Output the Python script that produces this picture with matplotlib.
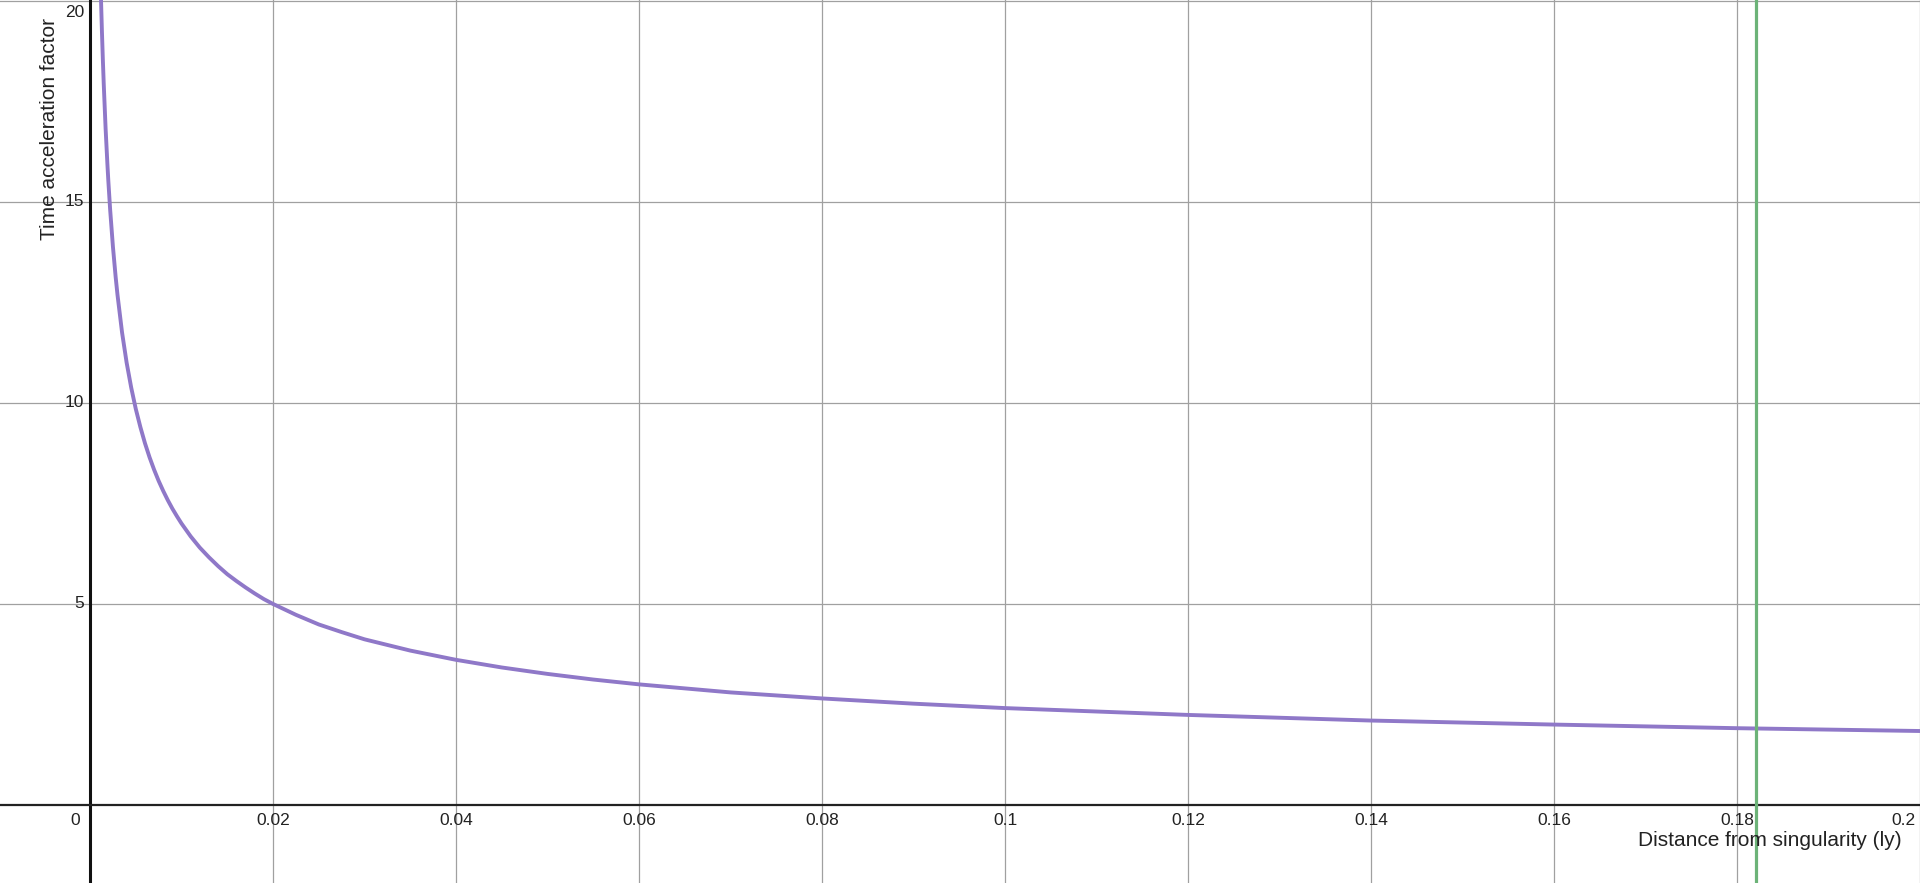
import matplotlib.pyplot as plt

plt.rcParams['font.family'] = ['Liberation Sans', 'DejaVu Sans']

# Puntos (distancia en ly, factor de aceleracion)
distancia = [0.001, 0.0011, 0.0012, 0.0013, 0.0014, 0.0015, 0.0017, 0.0019, 0.002, 0.0022,
             0.0025, 0.0028, 0.003, 0.0035, 0.004, 0.0045, 0.005, 0.0055, 0.006, 0.0065,
             0.007, 0.0075, 0.008, 0.0085, 0.009, 0.0095, 0.01, 0.011, 0.012, 0.013,
             0.014, 0.015, 0.016, 0.017, 0.018, 0.019, 0.02, 0.0225, 0.025, 0.0275,
             0.03, 0.035, 0.04, 0.045, 0.05, 0.055, 0.06, 0.065, 0.07, 0.08,
             0.09, 0.1, 0.12, 0.14, 0.16, 0.18, 0.2]
factor = [21.93, 20.91, 20.02, 19.24, 18.54, 17.92, 16.83, 15.93, 15.52, 14.80,
          13.89, 13.13, 12.69, 11.75, 11.0, 10.38, 9.85, 9.40, 9.0, 8.65,
          8.34, 8.06, 7.81, 7.58, 7.37, 7.18, 7.0, 6.68, 6.40, 6.16,
          5.94, 5.74, 5.57, 5.41, 5.26, 5.12, 5.0, 4.73, 4.49, 4.30,
          4.12, 3.84, 3.61, 3.42, 3.26, 3.12, 3.0, 2.90, 2.80, 2.65,
          2.52, 2.41, 2.24, 2.10, 2.0, 1.91, 1.84]

# Linea vertical verde
marca_x = 0.1821

# Etiquetas de ejes
x_ticks = [0.02, 0.04, 0.06, 0.08, 0.1, 0.12, 0.14, 0.16, 0.18, 0.2]
x_tick_labels = ['0.02', '0.04', '0.06', '0.08', '0.1', '0.12', '0.14', '0.16', '0.18', '0.2']
y_ticks = [5, 10, 15, 20]
y_tick_labels = ['5', '10', '15', '20']

fig = plt.figure(figsize=(19.2, 8.83), dpi=100)
ax = fig.add_axes([0, 0, 1, 1])

ax.set_xlim(-0.00984, 0.2)
ax.set_ylim(-1.94, 20.02)

# Rejilla
ax.set_xticks(x_ticks)
ax.set_yticks(y_ticks)
ax.grid(True, color='#a0a0a0', linewidth=0.9)
ax.tick_params(length=0, labelbottom=False, labelleft=False)

# Ejes en cero
for lado in ['right', 'top']:
    ax.spines[lado].set_visible(False)
ax.spines['left'].set_position(('data', 0))
ax.spines['bottom'].set_position(('data', 0))
ax.spines['left'].set_linewidth(2.2)
ax.spines['bottom'].set_linewidth(1.6)
ax.spines['left'].set_color('#111111')
ax.spines['bottom'].set_color('#222222')

# Curva y linea verde
ax.plot(distancia, factor, color='#8f78c8', linewidth=2.8, zorder=4,
        solid_joinstyle='round', solid_capstyle='round')
ax.axvline(marca_x, color='#6cb378', linewidth=2.3, zorder=5)

# Etiquetas de las marcas
for xv, lab in zip(x_ticks, x_tick_labels):
    ha = 'right' if xv == 0.2 else 'center'
    dx = -3 if xv == 0.2 else 0
    ax.annotate(lab, (xv, 0), xytext=(dx, -11), textcoords='offset points',
                ha=ha, va='center', fontsize=12.5, color='#222222')
for yv, lab in zip(y_ticks, y_tick_labels):
    dy = -8.5 if yv == 20 else 0
    ax.annotate(lab, (0, yv), xytext=(-4, dy), textcoords='offset points',
                ha='right', va='center', fontsize=12.5, color='#222222')
ax.annotate('0', (0, 0), xytext=(-7, -11), textcoords='offset points',
            ha='right', va='center', fontsize=12.5, color='#222222')

# Titulos de ejes
fig.text(1902 / 1920, 1 - 840 / 883, 'Distance from singularity (ly)',
         ha='right', va='center', fontsize=15, color='#222222')
fig.text(50 / 1920, 1 - 18 / 883, 'Time acceleration factor', rotation=90,
         ha='center', va='top', fontsize=15, color='#222222')

fig.savefig('out.png', dpi=100)
